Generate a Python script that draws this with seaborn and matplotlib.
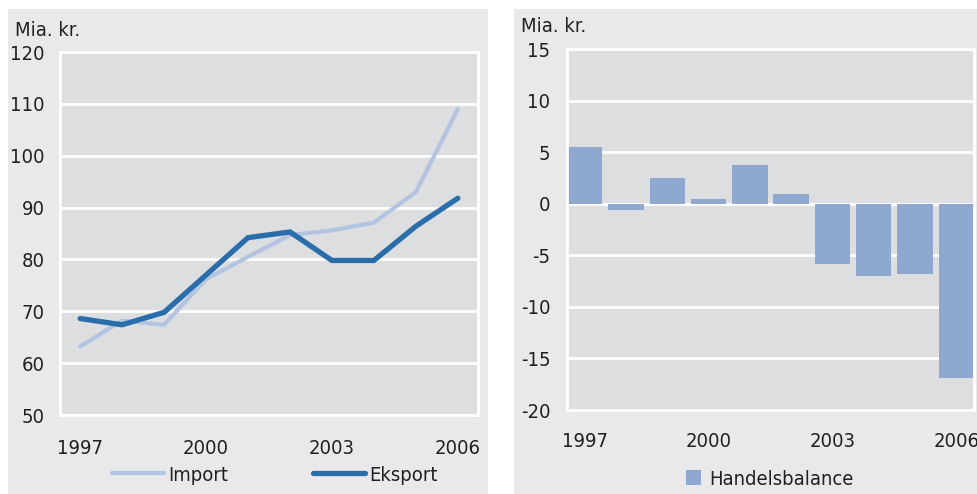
import pandas as pd
import matplotlib.pyplot as plt
import matplotlib.patches as mpatches
import matplotlib.font_manager as fm
import seaborn as sns

# --- data ---
years = [1997, 1998, 1999, 2000, 2001, 2002, 2003, 2004, 2005, 2006]
import_vals = [63.2, 68.2, 67.4, 76.2, 80.5, 84.7, 85.6, 87.1, 93.0, 109.0]
eksport_vals = [68.6, 67.4, 69.8, 77.0, 84.2, 85.3, 79.8, 79.8, 86.4, 91.8]
handelsbalance = [5.5, -0.6, 2.5, 0.5, 3.8, 0.9, -5.8, -7.0, -6.8, -16.9]
tick_years = [1997, 2000, 2003, 2006]

PANEL = '#e9e9eb'
PLOT_BG = '#dddee0'
TEXT = '#231f20'
C_IMPORT = '#b3c4e2'
C_EKSPORT = '#2a6dab'
C_BAR = '#8fa8d0'

sns.set_theme(style='dark')

# pick a narrow face if one is around
fonts = fm.fontManager.ttflist
names = {f.name for f in fonts}
if 'Liberation Sans Narrow' in names:
    plt.rcParams['font.family'] = ['Liberation Sans Narrow', 'DejaVu Sans']
    FS = 15.5
elif any(f.name == 'DejaVu Sans' and f.stretch == 'condensed' for f in fonts):
    plt.rcParams['font.family'] = ['DejaVu Sans']
    plt.rcParams['font.stretch'] = 'condensed'
    FS = 14.5
else:
    plt.rcParams['font.family'] = ['Roboto', 'DejaVu Sans']
    FS = 14.5
plt.rcParams['text.color'] = TEXT
plt.rcParams['axes.unicode_minus'] = False

fig = plt.figure(figsize=(9.77, 4.94), dpi=100, facecolor='white')
W, H = 977, 494

# gray panel backgrounds
for x0, w0 in [(8, 480), (514, 463)]:
    fig.patches.append(mpatches.Rectangle((x0 / W, 0), w0 / W, 485 / H, transform=fig.transFigure,
                                          facecolor=PANEL, edgecolor='none', zorder=-10))


def style_axes(ax, xpad, ypad):
    ax.set_facecolor(PLOT_BG)
    for s in ax.spines.values():
        s.set_visible(True)
        s.set_color('white')
        s.set_linewidth(2)
    ax.grid(False)
    ax.yaxis.grid(True, color='white', linewidth=2)
    ax.set_axisbelow(True)
    ax.tick_params(axis='both', length=0, labelsize=FS, labelcolor=TEXT)
    ax.tick_params(axis='x', pad=xpad)
    ax.tick_params(axis='y', pad=ypad)
    ax.set_xlabel('')
    ax.set_ylabel('')


# --- left: import / eksport ---
ax1 = fig.add_axes([60 / W, 1 - 415 / H, 418 / W, 363 / H])
df_lines = pd.DataFrame({'year': years * 2,
                         'value': import_vals + eksport_vals,
                         'serie': ['Import'] * len(years) + ['Eksport'] * len(years)})
sns.lineplot(data=df_lines, x='year', y='value', hue='serie',
             palette={'Import': C_IMPORT, 'Eksport': C_EKSPORT}, ax=ax1, legend=False)
for line, lw in zip(ax1.lines, [3.0, 3.8]):
    line.set_linewidth(lw)
    line.set_solid_capstyle('round')
    line.set_solid_joinstyle('miter')
ax1.set_xlim(1996.52, 2006.48)
ax1.set_ylim(50, 120)
ax1.set_yticks(range(50, 121, 10))
ax1.set_xticks(tick_years)
style_axes(ax1, xpad=17, ypad=11)
fig.text(15 / W, 1 - 31 / H, 'Mia. kr.', fontsize=FS, va='center', ha='left')

h_imp = plt.Line2D([], [], color=C_IMPORT, linewidth=3.0, solid_capstyle='round')
h_eks = plt.Line2D([], [], color=C_EKSPORT, linewidth=3.8, solid_capstyle='round')
fig.legend([h_imp, h_eks], ['Import', 'Eksport'], loc='center left',
           bbox_to_anchor=(112 / W, 1 - 475 / H), ncol=2, frameon=False,
           fontsize=FS, handlelength=2.6, handletextpad=0.2, columnspacing=4.2,
           borderpad=0, borderaxespad=0)

# --- right: handelsbalance ---
ax2 = fig.add_axes([567 / W, 1 - 410 / H, 407 / W, 361 / H])
df_bar = pd.DataFrame({'year': years, 'value': handelsbalance})
bw = 0.86
sns.barplot(data=df_bar, x='year', y='value', color=C_BAR, saturation=1, width=bw, ax=ax2)
for p in ax2.patches:
    p.set_edgecolor('none')
ax2.set_xlim(-bw / 2, len(years) - 1 + bw / 2)
ax2.set_ylim(-20, 15)
ax2.set_yticks(range(-20, 16, 5))
ax2.set_xticks([years.index(y) for y in tick_years])
ax2.set_xticklabels([str(y) for y in tick_years])
style_axes(ax2, xpad=16, ypad=12)
fig.text(521 / W, 1 - 27 / H, 'Mia. kr.', fontsize=FS, va='center', ha='left')

h_bar = mpatches.Patch(facecolor=C_BAR, edgecolor='none')
fig.legend([h_bar], ['Handelsbalance'], loc='center left',
           bbox_to_anchor=(686 / W, 1 - 479 / H), frameon=False, fontsize=FS,
           handlelength=0.75, handleheight=0.75, handletextpad=0.4,
           borderpad=0, borderaxespad=0)

fig.savefig('out.png', dpi=100, facecolor='white')
